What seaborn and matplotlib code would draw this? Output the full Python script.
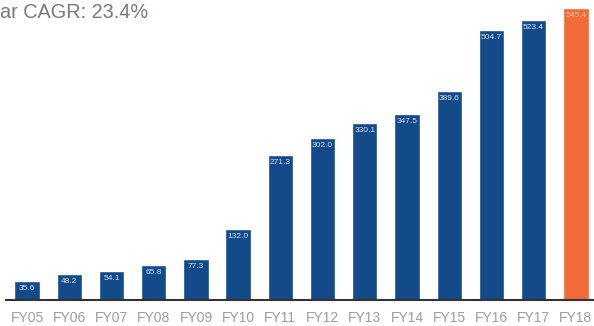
import matplotlib
matplotlib.use("Agg")
import matplotlib.pyplot as plt
import seaborn as sns
import pandas as pd

years = ["FY05", "FY06", "FY07", "FY08", "FY09", "FY10", "FY11", "FY12",
         "FY13", "FY14", "FY15", "FY16", "FY17", "FY18"]
values = [35.6, 48.2, 54.1, 65.8, 77.3, 132.0, 271.3, 302.0, 330.1, 347.5,
          389.6, 504.7, 523.4, 545.4]
kinds = ["actual"] * 13 + ["latest"]
title_text = "ar CAGR: 23.4%"

df = pd.DataFrame({"year": years, "value": values, "kind": kinds})

sns.set_theme(style="white")
plt.rcParams["font.family"] = ["Liberation Sans", "DejaVu Sans"]

fig = plt.figure(figsize=(5.94, 3.26), dpi=100)
ax = fig.add_axes([6 / 594, 26 / 326, 1 - 6 / 594, 1 - 26 / 326])

sns.barplot(data=df, x="year", y="value", hue="kind",
            palette={"actual": "#134a89", "latest": "#f26b38"},
            width=0.6, dodge=False, legend=False, ax=ax, saturation=1)

ax.set_ylim(0, 560)
ax.set_xlim(-0.5, 13.43)
for s in ["top", "right", "left"]:
    ax.spines[s].set_visible(False)
ax.spines["bottom"].set_color("#333333")
ax.spines["bottom"].set_linewidth(1.5)
ax.set_yticks([])
ax.set_xlabel("")
ax.set_ylabel("")
ax.tick_params(axis="x", length=0, pad=8, labelsize=10, labelcolor="#a09c9a")

for i, v in enumerate(values):
    col = "#f9c6b0" if kinds[i] == "latest" else "#d8e2ef"
    ax.annotate(f"{v:.1f}", (i, v), xytext=(0, -3), textcoords="offset points",
                ha="center", va="top", fontsize=6, color=col)

fig.text(0.0, 1 - 13 / 326, title_text, ha="left", va="center",
         fontsize=14.3, color="#7d7875")

fig.savefig("out.png", dpi=100)
